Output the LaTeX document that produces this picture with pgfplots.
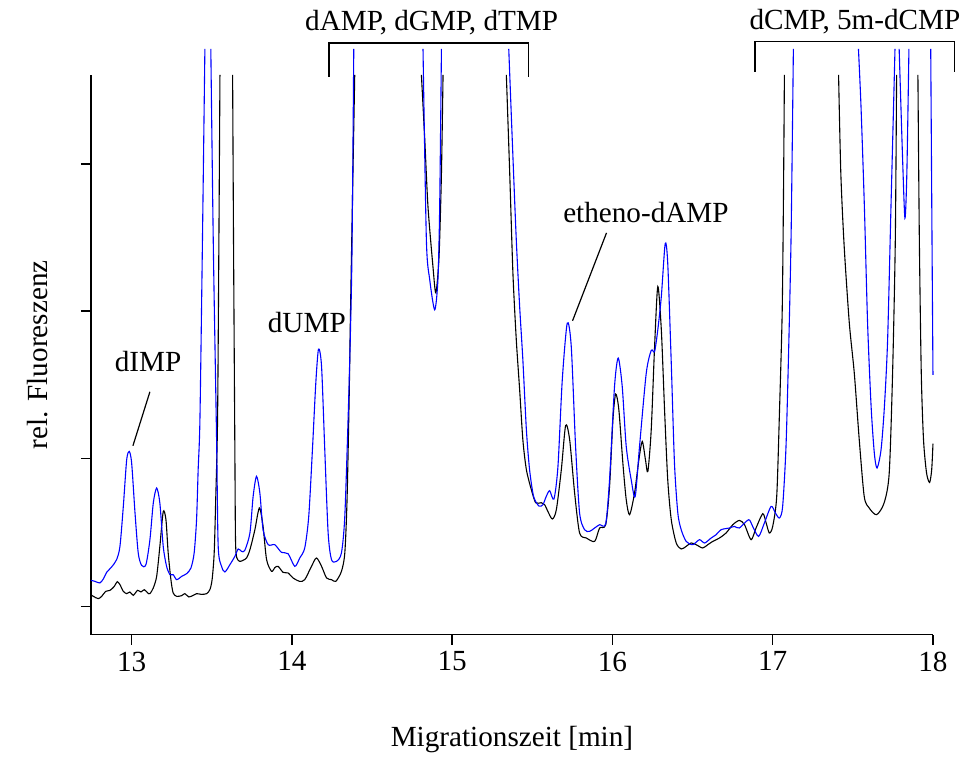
\documentclass[border=0pt]{standalone}
\usepackage{fontspec}
\setmainfont{Liberation Serif}
\usepackage{pgfplots}
\pgfplotsset{compat=1.18}
\usepackage{pgfplotstable}

% black trace: x = migration time [min], y = rel. fluorescence (arb. units)
\pgfplotstableread{
x y
12.746 40
12.761 38.3
12.792 36
12.813 38.3
12.838 43.3
12.865 44.3
12.892 48.3
12.910 53
12.927 50
12.948 43.3
12.969 41
12.989 42.7
13.010 39.3
13.037 44.3
13.058 42.7
13.079 45
13.100 41.7
13.114 41
13.135 46.7
13.156 58.3
13.176 88.3
13.197 123
13.214 115
13.228 81.7
13.245 55
13.259 41.7
13.281 38.3
13.312 39
13.332 41
13.357 37.7
13.384 39.3
13.405 41
13.436 40.3
13.468 41
13.488 45
13.502 55
13.515 81.7
13.524 132
13.536 215
13.544 385
13.551 560
nan nan
13.630 560
13.636 385
13.644 185
13.648 95
13.656 77
13.675 73.3
13.696 74.5
13.717 76.7
13.738 85
13.769 105
13.787 121
13.800 126.7
13.820 108.3
13.842 75
13.873 63.3
13.893 67
13.914 68.3
13.945 62.3
13.976 61.7
14.007 56.7
14.049 53.3
14.080 55
14.122 68.3
14.153 76.7
14.185 68.3
14.216 56.7
14.247 55
14.274 53.3
14.309 63.3
14.330 81.7
14.344 135
14.357 235
14.365 318.3
14.380 455
14.392 560
nan nan
14.808 560
14.829 495
14.849 428.3
14.880 368.3
14.898 342
14.918 378.3
14.933 461.7
14.943 560
nan nan
15.338 560
15.359 461.7
15.379 361.7
15.400 295
15.421 245
15.441 195
15.463 165
15.494 145
15.521 132
15.556 132
15.577 130
15.597 123.3
15.625 115.7
15.650 125
15.681 165
15.708 209.3
15.733 195
15.764 141.7
15.795 101.7
15.837 96.7
15.889 93.3
15.920 106.7
15.958 110
15.982 148.3
16.003 215
16.020 240.7
16.040 225
16.065 171.7
16.086 135
16.107 120
16.138 141.7
16.165 175
16.186 193.3
16.206 175
16.221 163.3
16.242 205
16.263 288.3
16.283 348.3
16.305 305
16.326 221.7
16.345 155
16.367 115
16.398 91.7
16.429 85.7
16.460 88.3
16.491 91.7
16.522 90
16.563 86.7
16.595 90
16.626 93.3
16.668 96.7
16.709 101.7
16.751 110
16.792 114.3
16.824 110
16.865 95
16.896 106.7
16.938 121
16.959 111.7
16.979 101.7
17.000 108.3
17.025 138.3
17.042 221.7
17.059 321.7
17.067 435
17.073 560
nan nan
17.411 560
17.425 461.7
17.446 388.3
17.478 311.7
17.509 261.7
17.540 195
17.571 138.3
17.602 126.7
17.648 120
17.695 131.7
17.727 161.7
17.748 261.7
17.765 395
17.773 560
nan nan
17.906 560
17.915 395
17.927 261.7
17.941 195
17.960 161.7
17.979 152.3
17.992 165
18.000 191
}\blacktrace

% blue trace
\pgfplotstableread{
x y
12.746 54.3
12.771 53.3
12.802 51.7
12.823 55.7
12.844 62.3
12.875 67.7
12.906 75
12.927 88.3
12.948 128.3
12.969 175
12.985 183.3
13.000 171.7
13.021 121.7
13.041 81.7
13.062 69.3
13.089 70
13.114 95
13.135 131.7
13.156 146.7
13.176 131.7
13.197 88.3
13.218 68.3
13.239 60
13.259 60
13.281 55
13.312 58.3
13.343 61
13.370 66.7
13.390 81.7
13.405 115
13.415 165
13.426 215
13.441 385
13.457 586
nan nan
13.494 586
13.510 385
13.530 195
13.540 88.3
13.561 68.3
13.582 62.7
13.613 70
13.644 78.3
13.665 85.7
13.686 83.3
13.706 84.3
13.738 101.7
13.758 138.3
13.779 158.3
13.800 141.7
13.820 105
13.852 90
13.893 90
13.935 82.3
13.976 81
14.018 68.3
14.049 76.7
14.080 86.7
14.105 118.3
14.128 185
14.149 251.7
14.166 285.7
14.185 268.3
14.205 185
14.226 101.7
14.247 75
14.278 73.3
14.309 81.7
14.330 118.3
14.351 218.3
14.365 301.7
14.375 385
14.386 586
nan nan
14.818 586
14.839 395
14.860 355
14.891 325
14.911 355
14.922 428.3
14.933 586
nan nan
15.353 586
15.379 478.3
15.400 395
15.421 328.3
15.441 275
15.463 205
15.483 165
15.508 138.3
15.541 128.7
15.566 130
15.587 138.3
15.608 144
15.635 135.7
15.660 168.3
15.687 255
15.718 311.7
15.743 288.3
15.770 188.3
15.795 121.7
15.826 105
15.857 103.3
15.889 106.7
15.920 110
15.958 111
15.982 155
16.013 248.3
16.036 276.7
16.061 248.3
16.086 188.3
16.117 155
16.142 138.3
16.169 188.3
16.211 261.7
16.242 284.3
16.263 283.3
16.283 305
16.305 338.3
16.329 391
16.345 371.7
16.367 271.7
16.387 171.7
16.408 121.7
16.429 105
16.460 93.3
16.501 90
16.543 95
16.575 91.7
16.616 96.7
16.647 100
16.678 105
16.730 106.7
16.761 108.3
16.792 106.7
16.850 115
16.875 108.3
16.912 98.3
16.948 111.7
16.990 128.3
17.017 121.7
17.042 116.7
17.062 128.3
17.083 188.3
17.100 288.3
17.115 402
17.129 586
nan nan
17.535 586
17.551 528.3
17.572 428.3
17.592 311.7
17.614 228.3
17.634 181.7
17.651 166.7
17.676 185
17.697 228.3
17.717 295
17.738 428.3
17.754 528.3
17.763 586
nan nan
17.789 586
17.810 478.3
17.825 416.7
17.837 461.7
17.850 586
nan nan
17.986 586
17.994 395
18.000 260
}\bluetrace

\begin{document}
\begin{tikzpicture}[font=\fontsize{14.6}{17.5}\selectfont]
\begin{axis}[
  scale only axis,
  width=421.25pt, height=280pt,
  xmin=12.746, xmax=18.0,
  ymin=0, ymax=560,
  axis x line*=bottom, axis y line*=left,
  axis line style={-, line width=0.75pt},
  xtick={13,14,15,16,17,18},
  ytick={28.3,176.3,324,471},
  yticklabels={},
  tick align=outside,
  major tick length=5pt,
  tick style={line width=0.75pt, black},
  /pgf/number format/assume math mode=true,
  clip=false,
  unbounded coords=jump,
  xlabel={Migrationszeit [min]},
  ylabel={rel. Fluoreszenz},
  xlabel style={at={(rel axis cs:0.5,0)}, anchor=center, yshift=-52.5pt},
  ylabel style={at={(rel axis cs:0,0.5)}, anchor=center, yshift=26.5pt},
]
\addplot[black, line width=0.55pt, smooth, tension=0.45] table[x=x, y=y] {\blacktrace};
\addplot[blue, line width=0.55pt, smooth, tension=0.45] table[x=x, y=y] {\bluetrace};

% annotations
\node at (axis cs:13.102,273) {dIMP};
\draw[line width=0.6pt] (axis cs:13.008,189) -- (axis cs:13.114,243);
\node at (axis cs:14.093,312) {dUMP};
\node at (axis cs:16.209,422) {etheno-dAMP};
\draw[line width=0.6pt] (axis cs:15.751,314) -- (axis cs:15.963,402);
\draw[line width=0.75pt] (axis cs:14.230,558) -- (axis cs:14.230,592) -- (axis cs:15.475,592) -- (axis cs:15.475,558);
\node at (axis cs:14.872,612) {dAMP, dGMP, dTMP};
\draw[line width=0.75pt] (axis cs:16.890,563) -- (axis cs:16.890,593.3) -- (axis cs:18.133,593.3) -- (axis cs:18.133,563);
\node at (axis cs:17.513,613) {dCMP, 5m-dCMP};

% page frame (invisible)
\path ([xshift=-45.5pt,yshift=-60.5pt]rel axis cs:0,0) rectangle ++(483.5pt,378pt);
\end{axis}
\end{tikzpicture}
\end{document}
